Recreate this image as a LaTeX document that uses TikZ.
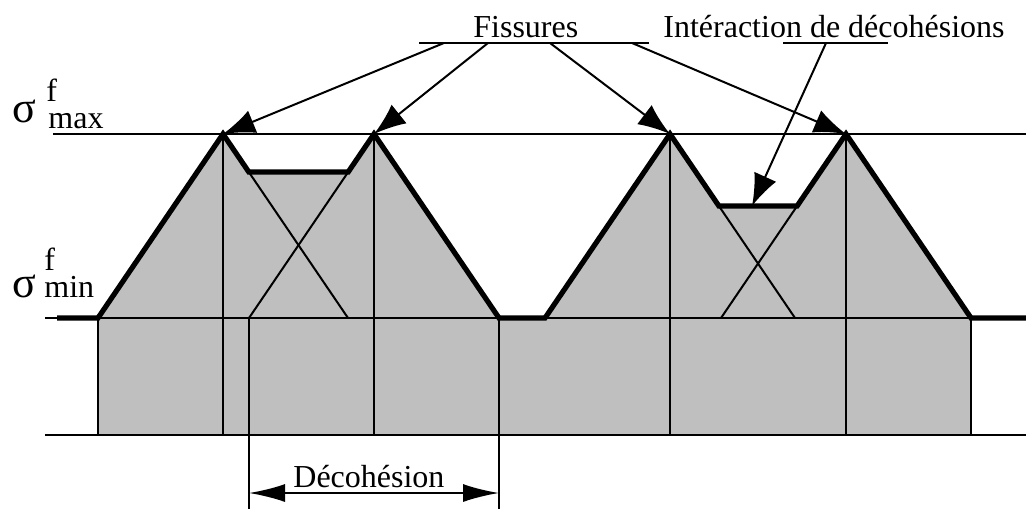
\documentclass[tikz,border=0pt]{standalone}
\usepackage{fontspec}
\setmainfont{Liberation Serif}
\usetikzlibrary{arrows.meta}
\definecolor{zone}{gray}{0.75}

\begin{document}
\begin{tikzpicture}[
    fine/.style={line width=1pt},
    prof/.style={line width=2.6pt},
    lbl/.style={font=\fontsize{16}{19}\selectfont, inner sep=0pt,
                anchor=base west},
    sig/.style={font=\fontsize{22}{22}\selectfont, inner sep=0pt,
                anchor=base west},
    arr/.style={-{Latex[length=16pt, width=12pt]}, line width=1pt},
    dim/.style={{Latex[length=18pt, width=9pt]}-{Latex[length=18pt, width=9pt]},
                line width=1pt},
    x=0.5pt, y=-0.5pt
  ]
  \useasboundingbox (0,0) rectangle (1026,509);

  % apexes, bases and plateaus
  \coordinate (a1) at (223,134);
  \coordinate (a2) at (374,134);
  \coordinate (a3) at (670,134);
  \coordinate (a4) at (846,134);
  \coordinate (b1l) at (98,318);  \coordinate (b1r) at (348,318);
  \coordinate (b2l) at (249,318); \coordinate (b2r) at (499,318);
  \coordinate (b3l) at (545,318); \coordinate (b3r) at (795,318);
  \coordinate (b4l) at (721,318); \coordinate (b4r) at (971,318);
  \coordinate (p1) at (248.8,172); \coordinate (p2) at (348.2,172);
  \coordinate (p3) at (718.9,206); \coordinate (p4) at (797.1,206);
  \coordinate (bot) at (0,435);

  % grey zone
  \fill[zone] (98,435) -- (b1l) -- (a1) -- (p1) -- (p2) -- (a2) -- (b2r)
    -- (b3l) -- (a3) -- (p3) -- (p4) -- (a4) -- (b4r) -- (971,435) -- cycle;

  % levels
  \draw[fine] (53,134) -- (1026,134);
  \draw[fine] (45,318) -- (1026,318);
  \draw[fine] (45,435) -- (1026,435);
  \draw[fine] (b1l) -- (98,435);
  \draw[fine] (b4r) -- (971,435);
  \foreach \a in {a1,a2,a3,a4}
    \draw[fine] (\a) -- (\a |- bot);
  \draw[fine] (p1) -- (b1r);
  \draw[fine] (p2) -- (b2l);
  \draw[fine] (p3) -- (b3r);
  \draw[fine] (p4) -- (b4l);

  % envelope
  \draw[prof] (57,318) -- (b1l) -- (a1) -- (p1) -- (p2) -- (a2) -- (b2r)
    -- (b3l) -- (a3) -- (p3) -- (p4) -- (a4) -- (b4r) -- (1026,318);

  % labels on the left
  \node[sig] (smax) at (12,122) {σ};
  \node[lbl] (fmax) at (46,101) {f};
  \node[lbl] (imax) at (48,128) {max};
  \node[sig] (smin) at (12,297) {σ};
  \node[lbl] (fmin) at (44,270) {f};
  \node[lbl] (imin) at (44,297) {min};

  % top labels
  \node[lbl] (fis) at (473,37) {Fissures};
  \node[lbl] (inter) at (663,37) {Intéraction de décohésions};
  \draw[fine] (419,43) -- (649,43);
  \draw[fine] (783,43) -- (888,43);
  \coordinate (f1) at (444,43);
  \coordinate (f2) at (488,43);
  \coordinate (f3) at (550,43);
  \coordinate (f4) at (632,43);
  \coordinate (i1) at (826,43);
  \coordinate (q1) at (752,206);
  \draw[arr] (f1) -- (a1);
  \draw[arr] (f2) -- (a2);
  \draw[arr] (f3) -- (a3);
  \draw[arr] (f4) -- (a4);
  \draw[arr] (i1) -- (q1);

  % decohesion width
  \coordinate (dl) at (249,493);
  \coordinate (dr) at (499,493);
  \draw[fine] (b2l) -- (249,509);
  \draw[fine] (b2r) -- (499,509);
  \draw[dim] (dl) -- (dr);
  \node[lbl] (deco) at (293,487) {Décohésion};
\end{tikzpicture}
\end{document}
